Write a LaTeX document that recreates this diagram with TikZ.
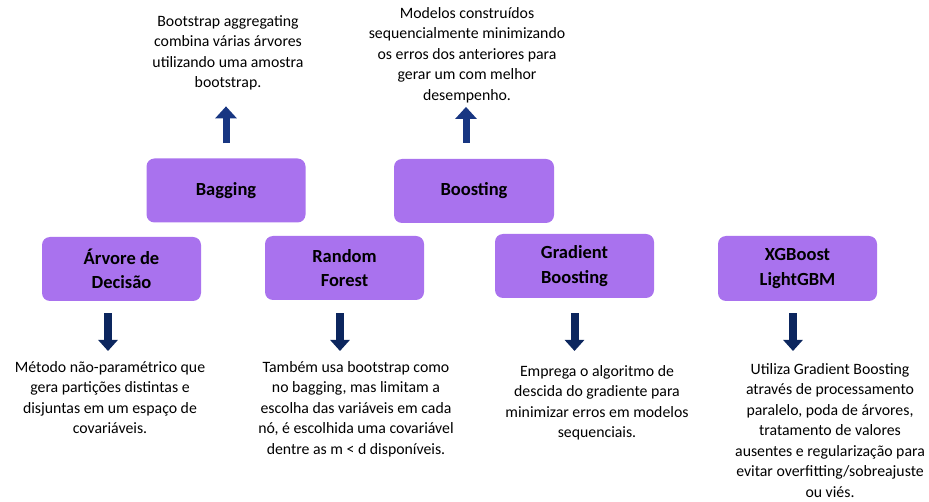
\documentclass[tikz,border=0pt]{standalone}
\usepackage{fontspec}
\setmainfont{Carlito}
\usetikzlibrary{arrows.meta}

\definecolor{boxpurple}{RGB}{169,114,238}
\definecolor{upnavy}{RGB}{24,54,130}
\definecolor{downnavy}{RGB}{12,38,94}

\tikzset{
  method/.style={fill=boxpurple, rounded corners=8pt, minimum width=159pt, minimum height=64pt,
    align=center, inner sep=2pt, font=\bfseries\fontsize{18.5}{24.5}\selectfont},
  note/.style={align=center, inner sep=0pt, anchor=north, font=\fontsize{15.8}{20.5}\selectfont},
  uparrow/.style={upnavy, line width=7pt, -{Triangle[width=21pt,length=12pt]}},
  downarrow/.style={downnavy, line width=8pt, -{Triangle[width=19pt,length=11pt]}},
}

\begin{document}
\begin{tikzpicture}[x=1pt, y=-1pt]
\useasboundingbox (0,0) rectangle (929,502);

    % Ensemble methods
    \node[method] (bagging) at (226,190.5) {Bagging};
    \node[method, minimum width=160pt] (boosting) at (474,191) {Boosting};

    % Models
    \node[method] (tree) at (121.5,269) {Árvore de\\Decisão};
    \node[method] (forest) at (344.5,268) {Random\\Forest};
    \node[method] (gradient) at (574.5,266) {Gradient\\Boosting};
    \node[method, minimum height=65pt] (xgb) at (797.5,268.5) {XGBoost\\LightGBM};

    % Descriptions
    \node[note] (baggingtxt) at (228,15) {Bootstrap aggregating\\combina várias árvores\\utilizando uma amostra\\bootstrap.};
    \node[note] (boostingtxt) at (467,7) {Modelos construídos\\sequencialmente minimizando\\os erros dos anteriores para\\gerar um com melhor\\desempenho.};
    \node[note] (treetxt) at (110,361) {Método não-paramétrico que\\gera partições distintas e\\disjuntas em um espaço de\\covariáveis.};
    \node[note] (foresttxt) at (356,361) {Também usa bootstrap como\\no bagging, mas limitam a\\escolha das variáveis em cada\\nó, é escolhida uma covariável\\dentre as m < d disponíveis.};
    \node[note] (gradienttxt) at (597,365) {Emprega o algoritmo de\\descida do gradiente para\\minimizar erros em modelos\\sequenciais.};
    \node[note] (xgbtxt) at (830,363) {Utiliza Gradient Boosting\\através de processamento\\paralelo, poda de árvores,\\tratamento de valores\\ausentes e regularização para\\evitar overfitting/sobreajuste\\ou viés.};

    % Arrows up
    \draw[uparrow, shorten <=15pt, shorten >=16pt] (bagging.north) -- (bagging.north |- baggingtxt.south);
    \draw[uparrow, shorten <=16pt, shorten >=4pt] ([xshift=-8pt]boosting.north) -- ([xshift=-8pt]boosting.north |- boostingtxt.south);

    % Arrows down
    \draw[downarrow, shorten <=12pt, shorten >=10pt] ([xshift=-13.5pt]tree.south) -- ([xshift=-13.5pt]tree.south |- treetxt.north);
    \draw[downarrow, shorten <=13pt, shorten >=10pt] ([xshift=-4.5pt]forest.south) -- ([xshift=-4.5pt]forest.south |- foresttxt.north);
    \draw[downarrow, shorten <=15pt, shorten >=14pt] (gradient.south) -- (gradient.south |- gradienttxt.north);
    \draw[downarrow, shorten <=12pt, shorten >=12pt] ([xshift=-4.5pt]xgb.south) -- ([xshift=-4.5pt]xgb.south |- xgbtxt.north);

\end{tikzpicture}
\end{document}
